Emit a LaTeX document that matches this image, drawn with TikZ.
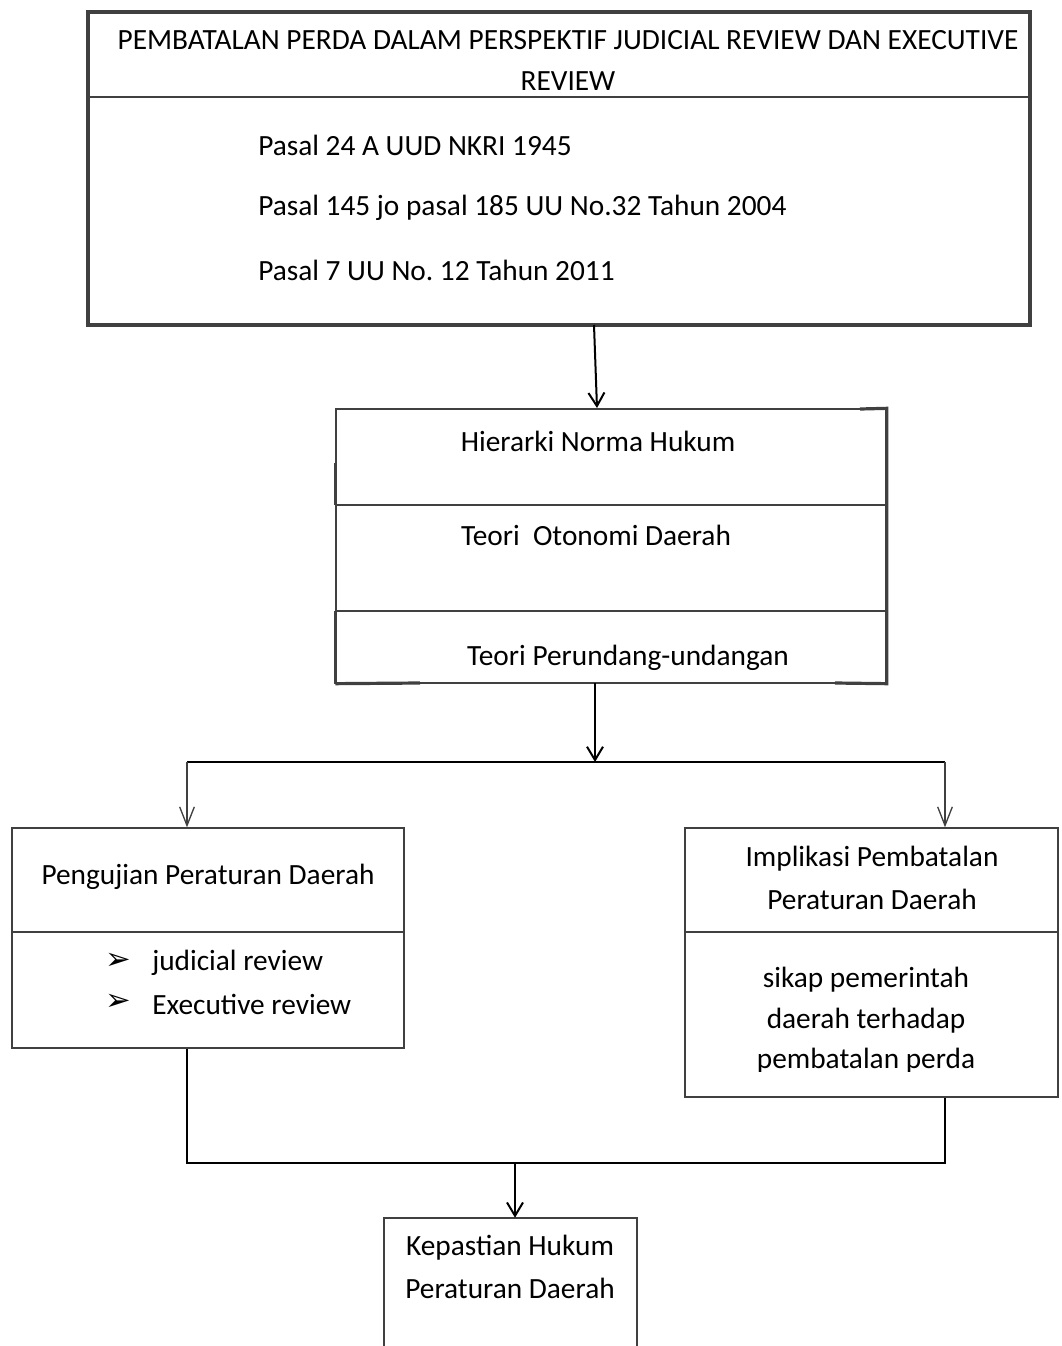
\documentclass[tikz,border=0pt]{standalone}
\usepackage{fontspec}
\setmainfont{Carlito}
\newfontfamily\dej{DejaVu Sans}
\usetikzlibrary{arrows.meta,fit}
\definecolor{bord}{HTML}{404040}
\frenchspacing
\tikzset{
  box/.style={draw=bord, line width=1pt, inner sep=0pt},
  thickb/.style={draw=bord, line width=2.4pt},
  thinb/.style={draw=bord, line width=1pt},
  txt/.style={inner sep=0pt, font=\fontsize{22}{30}\selectfont\frenchspacing, text=black},
  bul/.style={inner sep=0pt, font=\dej\fontsize{23}{26}\selectfont, text=black},
  conn/.style={draw=black, line width=1.5pt},
  arr/.style={draw=black, line width=1.5pt, -{Straight Barb[length=10pt,width=12pt,line width=1.5pt]}},
  arrthin/.style={draw=bord, line width=1pt, -{Straight Barb[length=14pt,width=11pt,line width=1pt]}},
}
\begin{document}
\begin{tikzpicture}[x=0.75pt,y=-0.75pt]
\useasboundingbox (0,0) rectangle (1062,1346);

% top box
\node[box, fit={(88,12) (1030,325)}, line width=2.4pt] (top) {};
\draw[thinb] (top.west |- 0,97) -- (top.east |- 0,97);
\node[txt] (t0) at (568,40) {PEMBATALAN PERDA DALAM PERSPEKTIF JUDICIAL REVIEW DAN EXECUTIVE};
\node[txt] (t0b) at (568,81) {REVIEW};
\node[txt, anchor=west] (p1) at (258,145) {Pasal 24 A UUD NKRI 1945};
\node[txt, anchor=west] (p2) at (258,208) {Pasal 145 jo pasal 185 UU No.32 Tahun 2004};
\node[txt, anchor=west] (p3) at (258,270) {Pasal 7 UU No. 12 Tahun 2011};

% middle box
\node[box, fit={(336,409) (886,683)}] (mid) {};
\draw[thinb] (mid.west |- 0,505) -- (mid.east |- 0,505);
\draw[thinb] (mid.west |- 0,611) -- (mid.east |- 0,611);
\draw[thickb] (860,409) -- (mid.north east) -- (mid.south east) -- (835,683);
\draw[thickb] (mid.south west) -- (420,683);
\draw[thickb] (mid.west |- 0,611) -- (mid.south west);
\draw[thickb] (mid.west |- 0,463) -- (mid.west |- 0,505);
\node[txt] (m1) at (598,441) {Hierarki Norma Hukum};
\node[txt] (m2) at (596,535) {Teori\ \ Otonomi Daerah};
\node[txt] (m3) at (628,658) {Teori Perundang-undangan};

% left box
\node[box, fit={(12,828) (404,1048)}] (left) {};
\draw[thinb] (left.west |- 0,932) -- (left.east |- 0,932);
\node[txt] (l1) at (208,877) {Pengujian Peraturan Daerah};
\node[bul] (b1) at (118,961) {➢};
\node[txt, anchor=west] (l2) at (152,963) {judicial review};
\node[bul] (b2) at (118,1002) {➢};
\node[txt, anchor=west] (l3) at (152,1004) {Executive review};

% right box
\node[box, fit={(685,828) (1058,1097)}] (right) {};
\draw[thinb] (right.west |- 0,932) -- (right.east |- 0,932);
\node[txt] (r1) at (872,859) {Implikasi Pembatalan};
\node[txt] (r2) at (872,899) {Peraturan Daerah};
\node[txt] (r3) at (866,980) {sikap pemerintah};
\node[txt] (r4) at (866,1021) {daerah terhadap};
\begin{scope}
\clip (685,1030) rectangle (1058,1071);
\node[txt, anchor=base] (r5) at (866,1068) {pembatalan perda};
\end{scope}

% bottom box (open at the bottom)
\node[fit={(384,1218) (637,1346)}, inner sep=0pt] (kep) {};
\draw[thinb, line width=1.3pt] (kep.south west) -- (kep.north west) -- (kep.north east) -- (kep.south east);
\node[txt] (k1) at (510,1248) {Kepastian Hukum};
\node[txt] (k2) at (510,1288) {Peraturan Daerah};

% connectors
\coordinate (a1s) at (594,325);
\coordinate (a1e) at (597,408);
\draw[arr] (a1s) -- (a1e);
\coordinate (a2s) at (595,683);
\coordinate (br) at (595,762);
\draw[arr] (a2s) -- (br);
\coordinate (bl) at (187,762);
\coordinate (brr) at (945,762);
\draw[conn] (bl) -- (brr);
\draw[arrthin] (bl) -- (bl |- left.north);
\draw[arrthin] (brr) -- (brr |- right.north);
\coordinate (jl) at (187,1163);
\coordinate (jr) at (945,1163);
\coordinate (jm) at (515,1163);
\draw[conn] (left.south -| jl) -- (jl) -- (jr) -- (right.south -| jr);
\draw[arr] (jm) -- (jm |- kep.north);
\end{tikzpicture}
\end{document}
